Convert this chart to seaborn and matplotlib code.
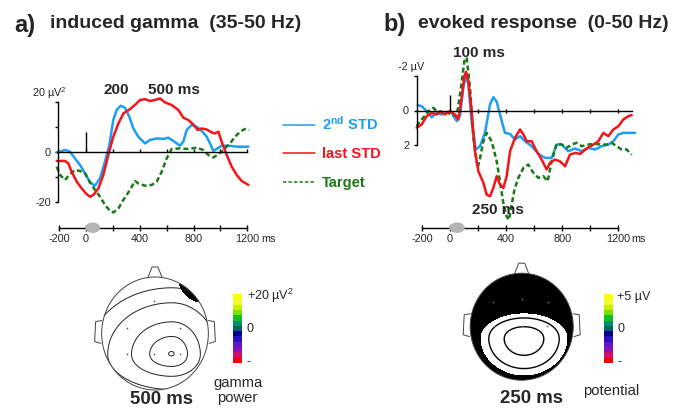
import numpy as np
import pandas as pd
import matplotlib
matplotlib.use("Agg")
import matplotlib.pyplot as plt
import matplotlib.colors as mcolors
from matplotlib.patches import Ellipse, Polygon
import seaborn as sns

# ---------------- data ----------------
CONDITIONS = ["2nd STD", "last STD", "Target"]

# (a) induced gamma power, µV^2
A_T_STD2 = [-218, -156, -119, -82, -45, -7, 30, 67, 104, 141, 174, 203, 228, 258, 290, 322, 352, 389,
            439, 476, 526, 575, 613, 650, 699, 724, 749, 786, 823, 861, 898, 923, 947, 972, 1009, 1059,
            1121, 1208]
A_V_STD2 = [-0.3, 0.7, 0, -2.7, -5.3, -8.7, -12.3, -13.6, -10.7, -4, 2.7, 12.7, 16.7, 18.4, 17.6, 14,
            9.3, 6, 3.3, 4.7, 5.3, 5.1, 5.6, 4.3, 2.4, 4, 8.7, 10.7, 10, 8.3, 6, 3.3, 0.3, 1.1, 2.4,
            2.4, 2, 2]
A_T_LAST = [-218, -156, -131, -107, -69, -32, 5, 30, 55, 92, 129, 166, 203, 241, 278, 327, 364, 402,
            439, 476, 513, 551, 588, 637, 687, 724, 761, 798, 831, 861, 898, 935, 960, 985, 1009, 1047,
            1084, 1121, 1158, 1208]
A_V_LAST = [-3.7, -3.7, -4.7, -8, -12, -14.7, -17, -18, -17.3, -14.7, -9.3, -1.3, 6, 11.3, 15.3, 17,
            18.7, 20.7, 21, 20.3, 20.7, 21.3, 19.7, 18.7, 16.7, 13.6, 12.7, 10.9, 8.7, 9.3, 8.9, 7.7,
            7.3, 8, 4, -1.3, -6, -9.3, -11.7, -13.3]
A_T_TARGET = [-218, -193, -156, -119, -82, -45, -7, 30, 67, 104, 141, 179, 203, 241, 278, 327, 364,
              389, 439, 489, 526, 563, 600, 637, 699, 761, 823, 873, 910, 947, 985, 1022, 1071, 1109,
              1146, 1183, 1215]
A_V_TARGET = [-6, -9.3, -11.3, -9, -7.3, -7.7, -8.7, -12.3, -15.3, -18, -21.3, -23.7, -24.3, -22.7,
              -19.3, -15.3, -11.7, -12.7, -13.6, -13.3, -12, -8, -2.7, 1.1, 1.3, 1.1, 1.6, 0.7, -1.3,
              -2.3, -1.1, 0.7, 3.3, 6, 8, 9.1, 8.7]

# (b) evoked potential, µV (negative up)
B_T_STD2 = [-230, -202, -166, -131, -95, -59, -24, 12, 48, 71, 95, 114, 131, 154, 183, 214, 249, 285,
            309, 333, 356, 392, 428, 463, 499, 535, 582, 630, 677, 725, 760, 796, 843, 891, 939, 986,
            1034, 1081, 1129, 1164, 1200, 1235, 1319]
B_V_STD2 = [-0.31, -0.25, 0.04, 0.39, 0.14, 0.23, 0.14, 0.14, 0.62, 0.33, -1.33, -2.1, -1.52, 0.62,
            2.28, 2.09, 1.31, -0.35, -0.78, -0.51, 0.23, 1.31, 1.37, 1.7, 1.5, 1.8, 2.09, 2.54, 2.77,
            2.77, 1.99, 1.99, 2.38, 2.22, 2.38, 2.19, 2.28, 2.09, 1.99, 1.8, 1.4, 1.31, 1.31]
B_T_LAST = [-238, -202, -166, -131, -95, -71, -36, 0, 36, 59, 83, 102, 114, 131, 154, 178, 202, 238,
            261, 285, 309, 333, 356, 380, 404, 428, 463, 499, 523, 547, 582, 618, 653, 689, 713, 748,
            784, 820, 855, 891, 927, 974, 1022, 1057, 1093, 1129, 1164, 1200, 1235, 1271, 1295]
B_V_LAST = [1.01, 0.82, 0.33, 0.14, 0.23, 0.04, 0.23, 0.04, 0.23, 0.53, -0.74, -2.01, -2.26, -1.72,
            0.04, 2.38, 3.55, 4.23, 4.92, 5.01, 4.53, 3.84, 4.33, 4.53, 3.84, 2.38, 1.6, 1.11, 1.4,
            1.8, 1.8, 2.38, 2.87, 3.45, 3.06, 2.87, 2.97, 3.26, 2.58, 2.48, 2.54, 2.22, 1.99, 1.8,
            1.31, 1.5, 1.11, 0.92, 0.53, 0.33, 0.27]
B_T_TARGET = [-238, -202, -154, -119, -83, -36, 12, 48, 78, 102, 119, 143, 166, 197, 214, 238, 261,
              297, 333, 356, 380, 404, 420, 440, 460, 487, 523, 558, 594, 630, 665, 696, 725, 760, 796,
              832, 867, 903, 939, 986, 1034, 1081, 1117, 1152, 1188, 1224, 1259, 1295]
B_V_TARGET = [0.92, 0.53, 0.04, -0.16, 0.14, 0.04, 0.27, 0.33, -1.33, -2.89, -3.1, -1.33, 1.6, 3.36,
              2.77, 1.8, 1.31, 1.8, 2.97, 4.14, 5.4, 6.2, 6.4, 5.5, 4.6, 3.94, 3.36, 3.16, 3.65, 3.94,
              3.84, 4.14, 2.97, 1.95, 1.99, 2.19, 1.99, 1.89, 2.09, 1.99, 1.95, 1.99, 1.99, 1.89, 2.09,
              2.28, 2.28, 2.58]

A_STIM_HEIGHT = 8      # µV^2 marker at stimulus onset
B_STIM_HEIGHT = -0.9   # µV
STIM_ON, STIM_OFF = 0, 100   # ms (grey tone symbol)
TIME_TICKS = [-200, 0, 400, 800, 1200]
TIME_TICK_POS = [-200, 0, 200, 400, 600, 800, 1000, 1200]
A_PEAK_LABELS = ["200", "500 ms"]
B_PEAK_LABELS = ["100 ms", "250 ms"]

# topographies (pixel-space head models)
A_ELECTRODES_X = [154, 126.7, 180, 126.7, 154, 180]
A_ELECTRODES_Y = [300.7, 327.7, 327.7, 354, 354.3, 354]
B_ELECTRODES_X = [493, 521.7, 548, 494, 521.7, 547, 521.7]
B_ELECTRODES_Y = [301.7, 299.3, 301.7, 326, 326, 326, 354]
A_LEVELS = [2.6, 17.5, 32, 51, 66]       # distance-to-peak isolines (gamma)
B_LEVELS = [0.45, 0.8]
CBAR_COLORS = ["#ffff00", "#eeff33", "#c8f000", "#7ee000", "#10c020", "#00906a", "#006466",
               "#000090", "#2a10c0", "#6414c8", "#8a10b8", "#c8106c", "#ff0000"]
A_CBAR_LABELS = ["+20 µV$^2$", "0", "-"]
B_CBAR_LABELS = ["+5 µV", "0", "-"]

BLUE, RED, GREEN = "#1e9ef0", "#f5141a", "#1a7a1a"
PALETTE = dict(zip(CONDITIONS, [BLUE, RED, GREEN]))

# ---------------- style ----------------
sns.set_style("white")
plt.rcParams["font.family"] = ["Liberation Sans", "DejaVu Sans"]
plt.rcParams.update({"mathtext.fontset": "custom", "mathtext.rm": "Liberation Sans",
                     "mathtext.bf": "Liberation Sans:bold", "mathtext.it": "Liberation Sans:italic"})

W, H = 682, 408
fig = plt.figure(figsize=(W / 100, H / 100), dpi=100)


def T(x, y, s, **kw):
    kw.setdefault("va", "baseline")
    fig.text(x / W, 1 - y / H, s, **kw)


def make_axes(xlim, ylim, xpx, ypx):
    x0, x1 = xpx(xlim[0]), xpx(xlim[1])
    ya, yb = ypx(ylim[0]), ypx(ylim[1])
    top, bot = min(ya, yb), max(ya, yb)
    ax = fig.add_axes([x0 / W, 1 - bot / H, (x1 - x0) / W, (bot - top) / H])
    ax.set_xlim(xlim)
    if ya > yb:
        ax.set_ylim(ylim[0], ylim[1])
    else:
        ax.set_ylim(ylim[1], ylim[0])
    ax.patch.set_alpha(0)
    return ax


def long_df(series):
    return pd.concat([pd.DataFrame({"t": t, "v": v, "cond": c}) for c, t, v in series],
                     ignore_index=True)


def line_panel(ax, df, spine_x, ybounds, zbounds, yticks, ylabels, xtick_dir, stim_h):
    sns.lineplot(data=df, x="t", y="v", hue="cond", style="cond",
                 hue_order=["2nd STD", "Target", "last STD"],
                 palette=PALETTE, dashes={"2nd STD": "", "last STD": "", "Target": (2.0, 1.2)},
                 estimator=None, sort=False, legend=False, lw=1.8, ax=ax)
    ax.set_xlabel("")
    ax.set_ylabel("")
    for s in ["top", "right"]:
        ax.spines[s].set_visible(False)
    for s in ["left", "bottom"]:
        ax.spines[s].set_color("black")
        ax.spines[s].set_linewidth(1.0)
    ax.spines["left"].set_position(("data", spine_x))
    ax.spines["left"].set_bounds(*ybounds)
    ax.spines["bottom"].set_position(("data", 0))
    ax.spines["bottom"].set_bounds(*zbounds)
    ax.set_xticks(TIME_TICK_POS[1:])
    ax.tick_params(axis="x", direction=xtick_dir, length=2.5, width=1.0, color="black",
                   labelbottom=False, bottom=True)
    ax.set_yticks(yticks)
    ax.set_yticklabels(ylabels)
    ax.tick_params(axis="y", direction="out", length=2.5, width=1.0, color="black",
                   labelsize=7.8, pad=3, left=True)
    ax.vlines(0, 0, stim_h, color="black", lw=1.0)


def time_axis(xlim, xpx, ybase):
    x0, x1 = xpx(xlim[0]), xpx(xlim[1])
    ax = fig.add_axes([x0 / W, 1 - ybase / H, (x1 - x0) / W, 6 / H])
    ax.set_xlim(xlim)
    ax.set_ylim(0, 1)
    ax.patch.set_alpha(0)
    for s in ["top", "right", "left"]:
        ax.spines[s].set_visible(False)
    ax.spines["bottom"].set_color("black")
    ax.spines["bottom"].set_linewidth(1.0)
    ax.spines["bottom"].set_bounds(TIME_TICK_POS[0], TIME_TICK_POS[-1])
    ax.set_xticks(TIME_TICK_POS)
    ax.set_xticklabels([str(t) if t in TIME_TICKS else "" for t in TIME_TICK_POS])
    ax.set_yticks([])
    ax.tick_params(axis="x", direction="inout", length=4.5, width=1.0, color="black",
                   labelsize=7.8, pad=2.5, bottom=True)
    return ax


# ---------------- panel a ----------------
ax_px_a = lambda ms: 86 + 0.13442 * ms
ay_px_a = lambda v: 151.7 - 2.5 * v
ax_a = make_axes((-240, 1240), (-27, 24), ax_px_a, ay_px_a)
df_a = long_df([("2nd STD", A_T_STD2, A_V_STD2), ("last STD", A_T_LAST, A_V_LAST),
                ("Target", A_T_TARGET, A_V_TARGET)])
line_panel(ax_a, df_a, -205, (-20, 20), (-218, 1200), [-20, -10, 0, 10, 20],
           ["-20", "", "0", "", ""], "in", A_STIM_HEIGHT)
time_axis((-240, 1240), ax_px_a, 227.7)

# ---------------- panel b ----------------
ax_px_b = lambda ms: 450 + 0.1403 * ms
ay_px_b = lambda v: 110.5 + 17.1 * v
ax_b = make_axes((-260, 1330), (-3.6, 6.9), ax_px_b, ay_px_b)
df_b = long_df([("2nd STD", B_T_STD2, B_V_STD2), ("last STD", B_T_LAST, B_V_LAST),
                ("Target", B_T_TARGET, B_V_TARGET)])
line_panel(ax_b, df_b, -237, (-2, 2), (-240, 1300), [-2, 0, 2], ["", "0", "2"], "inout",
           B_STIM_HEIGHT)
time_axis((-260, 1330), ax_px_b, 227.7)

# ---------------- overlay (pixel space) ----------------
ov = fig.add_axes([0, 0, 1, 1], zorder=10)
ov.patch.set_alpha(0)
ov.axis("off")

# stimulus symbols on time axes
for xpx in (ax_px_a, ax_px_b):
    cx = xpx((STIM_ON + STIM_OFF) / 2)
    w = xpx(STIM_OFF) - xpx(STIM_ON)
    ov.add_patch(Ellipse((cx, 227.7), w, 9, color="#b4b4b4", zorder=5))

# legend
for y, c, ls in [(125, BLUE, "-"), (153.3, RED, "-"), (181.5, GREEN, (0, (2.2, 1.4)))]:
    ov.plot([283.3, 315], [y, y], color=c, lw=1.1, ls=ls)
T(322.3, 129.5, r"2$^{\mathbf{nd}}$ STD", color=BLUE, fontsize=10.6, fontweight="bold")
T(322.3, 158.3, "last STD", color=RED, fontsize=10.6, fontweight="bold")
T(322.3, 186.7, "Target", color=GREEN, fontsize=10.6, fontweight="bold")

# titles
T(14, 32, "a)", fontsize=17, fontweight="bold")
T(50, 28.3, "induced gamma  (35-50 Hz)", fontsize=14, fontweight="bold")
T(383.3, 31, "b)", fontsize=17, fontweight="bold")
T(418, 28, "evoked response  (0-50 Hz)", fontsize=14, fontweight="bold")

# peak labels and axis units
T(103.3, 94.3, A_PEAK_LABELS[0], fontsize=11, fontweight="bold")
T(147.7, 94.3, A_PEAK_LABELS[1], fontsize=11, fontweight="bold")
T(453.3, 56.7, B_PEAK_LABELS[0], fontsize=11, fontweight="bold")
T(471.7, 214, B_PEAK_LABELS[1], fontsize=11, fontweight="bold")
T(31.7, 97.3, "20 µV$^2$", fontsize=7.8)
T(398.3, 70, "-2 µV", fontsize=7.8)
T(261.7, 241.5, "ms", fontsize=7.8)
T(631.7, 241.5, "ms", fontsize=7.8)


# heads
def head(cx, cy, w, h):
    outline = Ellipse((cx, cy), w, h, fill=False, ec="#444444", lw=0.7, zorder=4)
    ov.add_patch(outline)
    top = cy - h / 2
    ov.add_patch(Polygon([(cx - 7, top + 0.3), (cx - 3, top - 10), (cx + 3, top - 10),
                          (cx + 7, top + 0.3)], closed=False, fill=False, ec="#444444", lw=0.7))
    for sgn in (-1, 1):
        ex = cx + sgn * w / 2
        ov.add_patch(Polygon([(ex - sgn * 0.5, cy - 13), (ex + sgn * 6, cy - 12),
                              (ex + sgn * 7, cy + 8), (ex + sgn * 0.5, cy + 10)],
                             closed=False, fill=False, ec="#444444", lw=0.7))
    clip = Ellipse((cx, cy), w, h, transform=ov.transData, fill=False, lw=0)
    ov.add_patch(clip)
    return clip


# head a: gamma power topography (isolines around the right-posterior peak)
clip_a = head(155, 333.5, 106.7, 113)
X, Y = np.meshgrid(np.linspace(95, 215, 480), np.linspace(270, 398, 500))
dxa, dya = X - 171.5, Y - 353.8
sxa = 1.075 - 0.175 * np.tanh(dxa / 10)
sya = 0.85 - 0.15 * np.tanh(dya / 10)
DA = np.sqrt((dxa / sxa) ** 2 + (dya / sya) ** 2)
tu = ((X - 190) + (Y - 291)) / np.sqrt(2)      # along the scalp edge
tw = ((X - 190) - (Y - 291)) / np.sqrt(2)      # across the scalp edge
DIP = np.exp(-0.5 * ((tu / 10) ** 2 + (tw / 4) ** 2))
cf = ov.contourf(X, Y, DIP, levels=[0.4, 2], colors="black", zorder=3)
cf.set_clip_path(clip_a)
cs = ov.contour(X, Y, DA, levels=A_LEVELS, colors="#222222", linewidths=0.7, zorder=3)
cs.set_clip_path(clip_a)
ov.scatter(A_ELECTRODES_X, A_ELECTRODES_Y, s=1.5, color="#555555", zorder=4, lw=0)

# head b: potential topography
clip_b = head(521.7, 326.7, 103, 107)
X2, Y2 = np.meshgrid(np.linspace(465, 580, 360), np.linspace(270, 385, 360))
dy = Y2 - 339
ay = 31.5 + 5.5 * np.tanh(dy / 12)
R = np.sqrt(((X2 - 524) / 44) ** 2 + (dy / ay) ** 2)
cf2 = ov.contourf(X2, Y2, R, levels=[1.0, 50], colors="black", zorder=3)
cf2.set_clip_path(clip_b)
cs2 = ov.contour(X2, Y2, R, levels=B_LEVELS, colors="black", linewidths=1.0, zorder=3)
cs2.set_clip_path(clip_b)
ov.scatter(B_ELECTRODES_X, B_ELECTRODES_Y, s=1.5, color="#777777", zorder=4, lw=0)

# colour bars
cb = np.array([mcolors.to_rgb(c) for c in CBAR_COLORS])[:, None, :]
for x0, x1, labels in [(233.3, 241.7, A_CBAR_LABELS), (604, 612.3, B_CBAR_LABELS)]:
    ov.imshow(cb, extent=(x0, x1, 363.3, 294.3), aspect="auto", interpolation="nearest",
              origin="upper", zorder=4)
    T(x1 + 5, 300, labels[0], fontsize=9)
    T(x1 + 5, 331.5, labels[1], fontsize=9)
    T(x1 + 5, 365, labels[2], fontsize=9)

T(161.5, 404.3, "500 ms", fontsize=13.4, fontweight="bold", ha="center")
T(237.5, 386.7, "gamma", fontsize=10.6, ha="center")
T(237.5, 401.7, "power", fontsize=10.6, ha="center")
T(531, 403.3, "250 ms", fontsize=13.4, fontweight="bold", ha="center")
T(611.5, 395, "potential", fontsize=10.6, ha="center")

ov.set_xlim(0, W)
ov.set_ylim(H, 0)

fig.savefig("out.png", dpi=100)
